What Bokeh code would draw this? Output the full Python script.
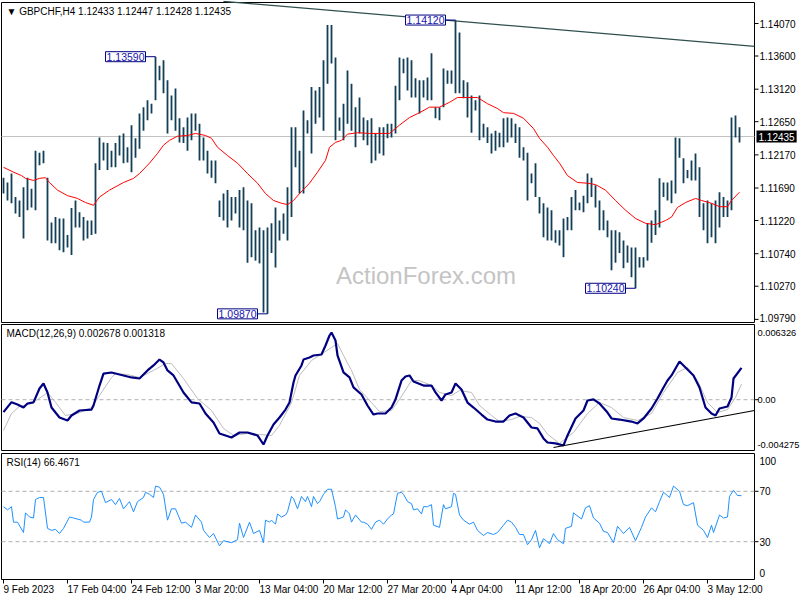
import numpy as np
from bokeh.plotting import figure
from bokeh.models import Range1d, Label
from bokeh.layouts import column
from bokeh.embed import file_html
from bokeh.resources import INLINE
from bokeh.core.properties import value

# ---------------- data ----------------
symbol_title = "\u25BC GBPCHF,H4  1.12433 1.12447 1.12428 1.12435"
macd_title = "MACD(12,26,9) 0.002678 0.001318"
rsi_title = "RSI(14) 66.4671"
last_price = 1.12435
watermark = "ActionForex.com"

# x axis: H4 bar numbers of the date labels
tick_bars = [0, 32, 64, 96, 128, 160, 192, 224, 256, 288, 320, 352]
tick_labels = ["9 Feb 2023", "17 Feb 04:00", "24 Feb 12:00", "3 Mar 20:00", "13 Mar 04:00",
               "20 Mar 12:00", "27 Mar 20:00", "4 Apr 04:00", "11 Apr 12:00", "18 Apr 20:00",
               "26 Apr 04:00", "3 May 12:00"]
price_ticks = [1.14070, 1.13600, 1.13120, 1.12650, 1.12170, 1.11690, 1.11220, 1.10740, 1.10270, 1.09790]
price_top, price_bottom = 1.14374, 1.09745       # values at the panel's top / bottom edge

# bar highs / lows (every second H4 bar)
highs = [1.1184, 1.1177, 1.1190, 1.1156, 1.1151, 1.1170, 1.1184, 1.1168, 1.1223, 1.1220,
         1.1223, 1.1184, 1.1119, 1.1127, 1.1125, 1.1125, 1.1101, 1.1140, 1.1151, 1.1134,
         1.1127, 1.1122, 1.1122, 1.1205, 1.1242, 1.1235, 1.1234, 1.1223, 1.1234, 1.1245,
         1.1248, 1.1228, 1.1260, 1.1241, 1.1277, 1.1286, 1.1296, 1.1291, 1.1359, 1.1346,
         1.1354, 1.1325, 1.1303, 1.1313, 1.1270, 1.1257, 1.1271, 1.1277, 1.1277, 1.1262,
         1.1242, 1.1223, 1.1209, 1.1209, 1.1151, 1.1161, 1.1166, 1.1156, 1.1156, 1.1166,
         1.1170, 1.1151, 1.1147, 1.1108, 1.1112, 1.1108, 1.1112, 1.1118, 1.1141, 1.1122,
         1.1132, 1.1170, 1.1257, 1.1257, 1.1223, 1.1281, 1.1267, 1.1315, 1.1310, 1.1315,
         1.1354, 1.1405, 1.1405, 1.1358, 1.1271, 1.1291, 1.1339, 1.1320, 1.1286, 1.1300,
         1.1271, 1.1267, 1.1270, 1.1248, 1.1257, 1.1257, 1.1262, 1.1262, 1.1317, 1.1358,
         1.1356, 1.1358, 1.1354, 1.1328, 1.1325, 1.1325, 1.1329, 1.1364, 1.1286, 1.1286,
         1.1342, 1.1339, 1.1339, 1.1412, 1.1394, 1.1325, 1.1322, 1.1303, 1.1296, 1.1303,
         1.1262, 1.1257, 1.1248, 1.1252, 1.1249, 1.1270, 1.1271, 1.1270, 1.1262, 1.1257,
         1.1228, 1.1220, 1.1190, 1.1205, 1.1156, 1.1147, 1.1141, 1.1137, 1.1108, 1.1108,
         1.1125, 1.1127, 1.1156, 1.1166, 1.1148, 1.1158, 1.1190, 1.1184, 1.1173, 1.1151,
         1.1137, 1.1122, 1.1108, 1.1108, 1.1105, 1.1093, 1.1086, 1.1083, 1.1083, 1.1069,
         1.1069, 1.1118, 1.1122, 1.1137, 1.1183, 1.1177, 1.1177, 1.1180, 1.1242, 1.1241,
         1.1212, 1.1195, 1.1209, 1.1219, 1.1199, 1.1147, 1.1151, 1.1147, 1.1151, 1.1163,
         1.1156, 1.1151, 1.1271, 1.1274, 1.1257]
lows = [1.1161, 1.1151, 1.1147, 1.1132, 1.1127, 1.1096, 1.1137, 1.1141, 1.1137, 1.1202,
        1.1205, 1.1093, 1.1089, 1.1089, 1.1079, 1.1076, 1.1083, 1.1072, 1.1112, 1.1112,
        1.1093, 1.1096, 1.1101, 1.1103, 1.1195, 1.1209, 1.1195, 1.1199, 1.1199, 1.1216,
        1.1205, 1.1206, 1.1192, 1.1213, 1.1226, 1.1252, 1.1267, 1.1277, 1.1296, 1.1325,
        1.1306, 1.1248, 1.1267, 1.1252, 1.1235, 1.1234, 1.1223, 1.1238, 1.1252, 1.1209,
        1.1209, 1.1190, 1.1184, 1.1176, 1.1127, 1.1122, 1.1112, 1.1122, 1.1132, 1.1112,
        1.1108, 1.1061, 1.1069, 1.1064, 1.1060, 1.0989, 1.0987, 1.1075, 1.1054, 1.1093,
        1.1103, 1.1093, 1.1127, 1.1199, 1.1161, 1.1161, 1.1248, 1.1219, 1.1262, 1.1271,
        1.1252, 1.1320, 1.1349, 1.1238, 1.1252, 1.1238, 1.1262, 1.1252, 1.1228, 1.1248,
        1.1238, 1.1231, 1.1205, 1.1209, 1.1219, 1.1216, 1.1241, 1.1242, 1.1248, 1.1296,
        1.1335, 1.1310, 1.1300, 1.1300, 1.1277, 1.1300, 1.1296, 1.1296, 1.1270, 1.1267,
        1.1286, 1.1320, 1.1320, 1.1306, 1.1306, 1.1299, 1.1271, 1.1249, 1.1281, 1.1238,
        1.1242, 1.1234, 1.1219, 1.1223, 1.1228, 1.1228, 1.1235, 1.1242, 1.1234, 1.1213,
        1.1209, 1.1151, 1.1176, 1.1156, 1.1132, 1.1098, 1.1093, 1.1093, 1.1090, 1.1086,
        1.1069, 1.1108, 1.1108, 1.1137, 1.1137, 1.1134, 1.1147, 1.1156, 1.1141, 1.1108,
        1.1108, 1.1098, 1.1050, 1.1061, 1.1075, 1.1053, 1.1061, 1.1040, 1.1024, 1.1054,
        1.1054, 1.1064, 1.1090, 1.1101, 1.1112, 1.1156, 1.1151, 1.1147, 1.1161, 1.1213,
        1.1176, 1.1183, 1.1180, 1.1180, 1.1127, 1.1108, 1.1089, 1.1098, 1.1089, 1.1112,
        1.1127, 1.1127, 1.1137, 1.1242, 1.1235]
bar_no = list(range(0, 2 * len(highs), 2))

# moving average (red)
ma_bar = [0, 5, 9, 11, 15, 18, 21, 23, 27, 32, 37, 41, 45, 48, 53, 60, 65, 68, 73, 77,
          80, 83, 87, 92, 96, 101, 104, 107, 112, 117, 122, 127, 131, 135, 139, 142, 145, 148, 153, 157,
          161, 163, 166, 169, 172, 177, 183, 193, 198, 203, 208, 213, 218, 223, 227, 232, 237, 242, 247, 250,
          255, 260, 265, 268, 272, 275, 278, 282, 287, 292, 296, 301, 306, 311, 316, 321, 326, 331, 334, 337,
          341, 346, 349, 354, 358, 362, 364, 368]
ma_val = [1.1199, 1.1192, 1.1187, 1.1183, 1.1180, 1.1183, 1.1184, 1.1177, 1.1166, 1.1158,
          1.1154, 1.1148, 1.1144, 1.1156, 1.1166, 1.1177, 1.1183, 1.1190, 1.1205, 1.1219,
          1.1231, 1.1238, 1.1244, 1.1245, 1.1248, 1.1245, 1.1241, 1.1228, 1.1216, 1.1205,
          1.1190, 1.1176, 1.1161, 1.1151, 1.1147, 1.1145, 1.1151, 1.1161, 1.1176, 1.1192,
          1.1209, 1.1228, 1.1235, 1.1238, 1.1247, 1.1249, 1.1248, 1.1248, 1.1260, 1.1271,
          1.1278, 1.1286, 1.1286, 1.1293, 1.1300, 1.1300, 1.1300, 1.1291, 1.1284, 1.1278,
          1.1277, 1.1270, 1.1255, 1.1241, 1.1228, 1.1216, 1.1205, 1.1187, 1.1177, 1.1176,
          1.1174, 1.1166, 1.1151, 1.1137, 1.1125, 1.1118, 1.1116, 1.1122, 1.1127, 1.1141,
          1.1148, 1.1154, 1.1151, 1.1147, 1.1142, 1.1142, 1.1151, 1.1163]

# resistance trend line on price
trend_bar = [110, 375.5]
trend_val = [1.1439, 1.1374]

# labelled extremes
ext_bar = [76, 226, 132, 316]
ext_val = [1.13590, 1.14120, 1.09870, 1.10240]

# MACD main line
macd_bar = [0, 2, 4, 7, 10, 12, 15, 18, 20, 22, 24, 28, 32, 34, 38, 44, 45, 48, 50, 54,
            58, 64, 68, 72, 75, 78, 80, 82, 85, 90, 94, 98, 101, 105, 108, 114, 118, 122, 127,
            130, 132, 135, 138, 141, 143, 145, 146, 149, 150, 153, 155, 159, 161, 163, 164, 166, 167, 170, 173,
            175, 179, 182, 185, 187, 191, 194, 196, 199, 201, 203, 205, 210, 214, 216, 219, 221, 224, 226, 229,
            232, 235, 239, 242, 246, 250, 253, 256, 260, 264, 267,
            270, 272, 276, 280, 282, 286, 290, 292, 295, 298, 302, 304, 308, 314, 317, 320, 324, 327, 330, 332,
            334, 338, 341, 345, 348, 351, 354, 356, 358, 362, 364, 365, 369]
macd_val = [-0.00105, -0.00063, -0.00021, -0.00040, -0.00066, -0.00032, -0.00023, 0.00094, 0.00136, 0.00061,
            -0.00066, -0.00150, -0.00175, -0.00133, -0.00091, -0.00083, -0.00049, 0.00119, 0.00220, 0.00229,
            0.00212, 0.00187, 0.00178, 0.00246, 0.00288, 0.00338, 0.00313, 0.00246, 0.00204, 0.00061,
            -0.00023, -0.00032, -0.00116, -0.00192, -0.00284, -0.00318, -0.00276, -0.00276, -0.00301,
            -0.00377, -0.00301, -0.00209, -0.00150, -0.00083, -0.00024, 0.00145, 0.00204, 0.00288, 0.00338,
            0.00355, 0.00372, 0.00380, 0.00456, 0.00540, 0.00565, 0.00498, 0.00372, 0.00229, 0.00187,
            0.00103, 0.00044, -0.00049, -0.00125, -0.00116, -0.00116, -0.00066, 0.00002, 0.00161, 0.00195,
            0.00204, 0.00153, 0.00119, 0.00119, 0.00061, -0.00007, 0.00044, 0.00061, 0.00136, 0.00086,
            -0.00024, -0.00066, -0.00125, -0.00167, -0.00184, -0.00184, -0.00133, -0.00116, -0.00150, -0.00234,
            -0.00242,
            -0.00326, -0.00360, -0.00368, -0.00385, -0.00301, -0.00158, -0.00091, -0.00007, 0.00002, -0.00032,
            -0.00108, -0.00158, -0.00167, -0.00184, -0.00200, -0.00158, -0.00074, 0.00010, 0.00103, 0.00161,
            0.00204, 0.00321, 0.00271, 0.00204, 0.00103, -0.00066, -0.00116, -0.00133, -0.00074, -0.00057,
            0.00018, 0.00178, 0.00268]
# MACD signal line
sig_bar = [0, 4, 8, 14, 20, 22, 26, 31, 37, 44, 48, 54, 56, 62, 68, 75, 81, 84, 90, 97,
           104, 110, 115, 122,
           128, 134, 138, 144, 148, 154, 158, 164, 167, 170, 174, 178, 184, 188, 194, 198, 204, 208, 214, 218,
           224, 228, 234, 238, 244, 248, 254, 258, 264, 268,
           272, 278, 285, 292, 298, 304, 310, 317, 324, 330, 337, 342, 347, 352, 357, 362, 366, 369]
sig_val = [-0.00259, -0.00116, -0.00057, -0.00032, 0.00035, 0.00061, -0.00023, -0.00133, -0.00116, -0.00066,
           0.00035, 0.00187, 0.00220, 0.00212, 0.00187, 0.00246, 0.00304, 0.00304, 0.00178, 0.00010,
           -0.00091, -0.00242, -0.00301, -0.00284,
           -0.00293, -0.00301, -0.00217, -0.00024, 0.00204, 0.00330, 0.00372, 0.00439, 0.00473, 0.00372,
           0.00246, 0.00086, -0.00024, -0.00100, -0.00091, 0.00002, 0.00161, 0.00161, 0.00119, 0.00061,
           0.00035, 0.00077, 0.00061, -0.00049, -0.00133, -0.00184, -0.00167, -0.00141, -0.00150, -0.00200,
           -0.00290, -0.00368, -0.00276, -0.00116, -0.00023, -0.00066, -0.00150, -0.00175, -0.00116, 0.00061,
           0.00229, 0.00271, 0.00161, -0.00023, -0.00108, -0.00083, 0.00018, 0.00132]
macd_trend_bar = [275, 375.5]
macd_trend_val = [-0.00402, -0.00091]
macd_top, macd_bottom = 0.006326, -0.004275

# RSI(14)
rsi_bar = [0, 2, 4, 5, 7, 10, 11, 13, 15, 16, 18, 20, 22, 24, 26, 28, 30, 33, 35, 39,
           40, 43, 44, 45, 47, 49, 51, 54, 56, 58, 60, 63, 65, 67, 70, 71, 73, 75, 76, 78,
           80, 82, 84, 86, 89, 91, 94, 96, 99, 100, 103, 105, 108, 110, 114, 117, 118, 120, 123, 125,
           128, 130, 131, 133, 134, 136, 137, 139, 141, 142, 144, 145, 147, 149, 151, 152, 154, 155, 157, 158,
           160, 162, 164, 166, 167, 170, 171, 173, 174, 176, 179, 180, 182, 184, 186, 188, 190, 192, 194, 195,
           197, 199, 200, 202, 204, 205, 207, 209, 210, 212, 214, 215, 218, 220, 221, 224, 225, 226, 228, 230,
           233, 235, 237, 240, 242, 245, 247, 250, 252, 254, 256, 258, 260, 262, 264, 266, 268,
           270, 273, 275, 277, 280, 281, 284, 285, 289, 291, 293, 295, 298, 300, 302, 305, 307, 310, 313, 316,
           319, 321, 324, 326, 328, 330, 333, 335, 338, 340, 342, 345, 347, 350, 352, 354, 355, 358, 360, 362,
           363, 365, 367, 369]
rsi_val = [57.8, 55.3, 57.8, 45.5, 45.5, 37.3, 52.9, 49.6, 48.8, 63.5,
           65.1, 65.1, 40.6, 39.0, 39.8, 36.5, 40.6, 49.6, 48.8, 47.1,
           45.5, 45.5, 49.6, 63.5, 69.2, 70.0, 61.0, 63.5, 59.4, 64.3,
           56.1, 61.8, 53.7, 61.8, 65.1, 69.2, 67.6, 65.1, 74.1, 73.3,
           67.6, 47.1, 56.1, 56.1, 44.7, 45.5, 41.4, 51.2, 45.5, 39.0,
           33.3, 36.5, 26.7, 30.8, 29.2, 31.6, 44.7, 33.3, 45.5, 36.5,
           39.0, 29.2, 47.1, 45.5, 47.1, 43.9, 52.0, 49.6, 51.2, 53.7,
           65.9, 64.3, 56.1, 65.9, 61.8, 65.9, 57.8, 65.9, 60.2, 61.8,
           67.6, 71.6, 71.6, 57.8, 48.0, 49.6, 55.3, 52.0, 45.5, 51.2,
           45.5, 45.5, 43.9, 39.8, 45.5, 47.1, 43.9, 48.0, 51.2, 52.0,
           68.4, 69.2, 67.6, 61.8, 60.2, 55.3, 56.1, 52.0, 57.8, 57.8,
           59.4, 43.1, 41.4, 59.4, 56.1, 57.8, 68.4, 67.6, 51.2, 47.1,
           43.9, 45.5, 39.0, 34.9, 37.3, 35.7, 37.3, 43.1, 47.1, 45.5,
           41.4, 35.7, 35.7, 27.6, 31.6, 39.0, 25.1,
           32.4, 28.4, 36.5, 31.6, 28.4, 40.6, 42.2, 52.9, 48.0, 56.9,
           58.6, 48.8, 44.7, 38.2, 37.3, 29.2, 42.2, 36.5, 41.4, 30.8,
           41.4, 49.6, 56.9, 53.7, 61.8, 69.2, 65.1, 74.1, 70.0, 59.4,
           58.6, 61.0, 43.1, 39.0, 33.3, 43.1, 37.3, 51.2, 48.8, 49.6,
           65.9, 70.8, 66.7, 66.5]
rsi_levels = [70, 30]
rsi_top, rsi_bottom = 100, 0

# ---------------- layout ----------------
FONT = "Liberation Sans"
W = 800
PXB = 2.0                 # pixels per H4 bar
X0 = -1.5                 # bar number at the left canvas edge
XL, XR = -1.0, 375.5      # bar numbers of the left / right panel borders
X_END = X0 + W / PXB
x_range = Range1d(X0, X_END)


def panel(top_val, bot_val, border_h, pad_top, pad_bot):
    per = (top_val - bot_val) / border_h
    yr = Range1d(bot_val - pad_bot * per, top_val + pad_top * per)
    p = figure(frame_width=W, frame_height=border_h + pad_top + pad_bot, x_range=x_range, y_range=yr,
               output_backend="svg", toolbar_location=None,
               y_axis_location=None, x_axis_location=None,
               min_border_left=0, min_border_right=0, min_border_top=0, min_border_bottom=0)
    p.grid.visible = False
    p.outline_line_color = None
    p.background_fill_color = "white"
    p.border_fill_color = "white"
    # panel border (only round the drawing area, not the price scale)
    p.segment(x0=[XL, XL, XL, XR], y0=[top_val, bot_val, bot_val, bot_val],
              x1=[XR, XR, XL, XR], y1=[top_val, bot_val, top_val, top_val],
              line_color="black", line_width=1)
    return p, per


def scale_labels(p, ys, texts, marks, size="10px", dx=2.5):
    p.segment(x0=[XR] * len(marks), y0=marks, x1=[XR + 2] * len(marks), y1=marks,
              line_color="black", line_width=1)
    p.text(x=[XR + dx] * len(ys), y=ys, text=texts, text_font=value(FONT),
           text_font_size=value(size), text_color="black", text_baseline="middle",
           text_align="left")


def title(p, y, text):
    p.text(x=[XL + 2.5], y=[y], text=[text], text_font=value(FONT),
           text_font_size=value("10px"), text_color="black", text_baseline="middle",
           text_align="left")


# ---- price panel ----
p1, per1 = panel(price_top, price_bottom, 320, 2, 1)
p1.line([XL, XR], [last_price, last_price], line_color="#c0c0c0", line_width=1)
p1.text(x=[(XL + XR) / 2 + 24], y=[price_bottom + 47 * per1], text=[watermark],
        text_font=value(FONT), text_font_size=value("24px"), text_color="#c4c4c4",
        text_align="center", text_baseline="middle")
p1.segment(x0=bar_no, y0=lows, x1=bar_no, y1=highs, line_color="#123e58", line_width=1.8)
p1.line(ma_bar, ma_val, line_color="#ff0000", line_width=1)
p1.line(trend_bar, trend_val, line_color="#2f4f4f", line_width=1.2)
for b, v in zip(ext_bar, ext_val):
    p1.line([b - 5, b], [v, v], line_color="#000080", line_width=1)
    p1.add_layout(Label(x=b - 5, y=v, text="%.5f" % v, text_font=FONT, text_font_size="10.5px",
                        text_color="#1515b0", text_align="right", text_baseline="middle",
                        background_fill_color="white", border_line_color="#000080",
                        border_line_width=1, padding=1))
price_label_y = [max(t, price_bottom + 5 * per1) for t in price_ticks]
scale_labels(p1, price_label_y, ["%.5f" % t for t in price_ticks], price_ticks)
p1.add_layout(Label(x=XR + 1, y=last_price, text="%.5f" % last_price, text_font=FONT,
                    text_font_size="10px", text_color="white", text_align="left",
                    text_baseline="middle", background_fill_color="black", padding=2))
title(p1, price_top - 8.5 * per1, symbol_title)

# ---- MACD panel ----
p2, per2 = panel(macd_top, macd_bottom, 126, 1, 2)
p2.line([XL, XR], [0, 0], line_color="#b0b0b0", line_width=1, line_dash="4 3")
p2.line(sig_bar, sig_val, line_color="#bcbcbc", line_width=1)
p2.line(macd_bar, macd_val, line_color="#000080", line_width=2.2)
p2.line(macd_trend_bar, macd_trend_val, line_color="black", line_width=1.2)
scale_labels(p2, [macd_top - 8 * per2, 0, macd_bottom + 6 * per2],
             ["%.6f" % macd_top, "0.00", "%.6f" % macd_bottom], [0], size="9.3px", dx=1.5)
title(p2, macd_top - 9 * per2, macd_title)

# ---- RSI panel (with the date scale drawn below it) ----
p3, per3 = panel(rsi_top, rsi_bottom, 126, 1, 21)
for lv in rsi_levels:
    p3.line([XL, XR], [lv, lv], line_color="#b0b0b0", line_width=1, line_dash="4 3")
p3.line(rsi_bar, rsi_val, line_color="#1e90ff", line_width=1)
scale_labels(p3, [rsi_top - 7.5 * per3] + rsi_levels + [rsi_bottom + 7 * per3],
             ["%d" % rsi_top] + ["%d" % v for v in rsi_levels] + ["%d" % rsi_bottom], rsi_levels)
title(p3, rsi_top - 8.5 * per3, rsi_title)
n_t = len(tick_bars)
p3.segment(x0=tick_bars, y0=[rsi_bottom] * n_t, x1=tick_bars, y1=[rsi_bottom - 4 * per3] * n_t,
           line_color="black", line_width=1)
p3.text(x=tick_bars, y=[rsi_bottom - 9.5 * per3] * n_t, text=tick_labels, text_font=value(FONT),
        text_font_size=value("10px"), text_color="black", text_baseline="middle", text_align="left")

layout = column(p1, p2, p3, spacing=0)
open("out.html", "w").write(file_html(layout, INLINE))
